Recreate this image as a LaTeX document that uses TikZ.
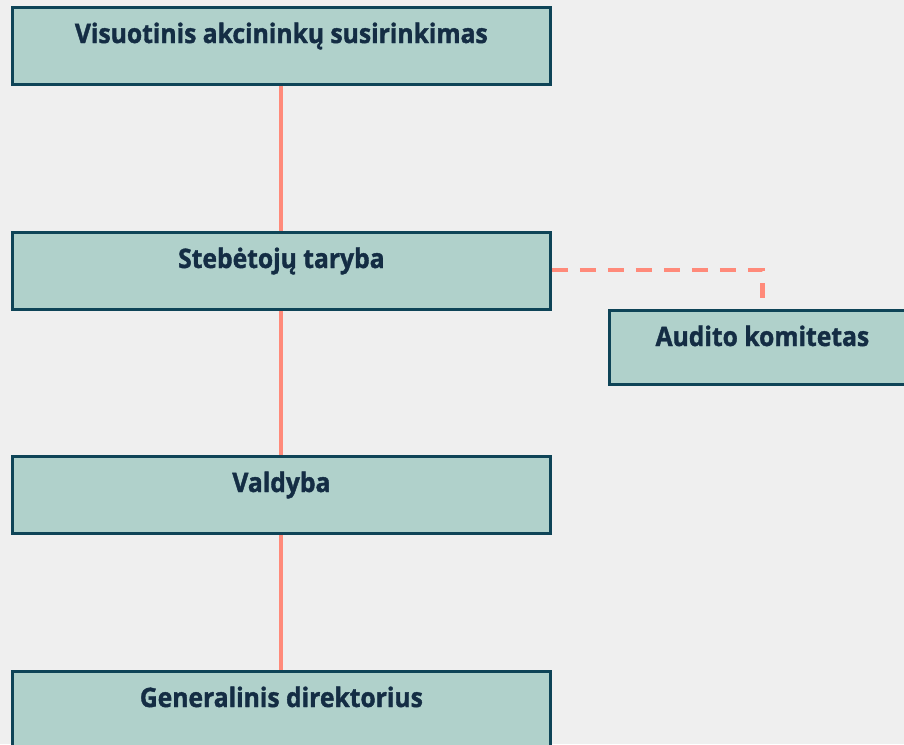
\documentclass[tikz,border=0pt]{standalone}
\usepackage{fontspec}
\setmainfont{Open Sans}[BoldFeatures={FakeBold=1.4,FakeStretch=0.92}]
\definecolor{bgc}{HTML}{EFEFEF}
\definecolor{boxfill}{HTML}{B0D1CB}
\definecolor{boxline}{HTML}{0E4457}
\definecolor{txt}{HTML}{142D44}
\definecolor{conn}{HTML}{FF8A7A}
\tikzset{
  orgbox/.style={draw=boxline, line width=2.8pt, fill=boxfill, minimum width=538pt, minimum height=77pt, inner sep=0pt, anchor=north west},
  orglabel/.style={text=txt, font=\bfseries\fontsize{26.8}{31}\selectfont, anchor=base, inner sep=0pt},
  link/.style={draw=conn, line width=4pt},
  dlink/.style={draw=conn, line width=4.4pt, dash pattern=on 16pt off 12pt}
}
\begin{document}
\begin{tikzpicture}[x=1pt,y=-1pt]
\useasboundingbox (0,0) rectangle (904,744);
\fill[bgc] (0,0) rectangle (904,744);
\begin{scope}
\clip (0,0) rectangle (904,744);
\node[orgbox] (b1) at (11,6) {};
\node[orgbox] (b2) at (11,231) {};
\node[orgbox, minimum width=306pt, minimum height=74pt] (b5) at (608,309) {};
\node[orgbox] (b3) at (11,455) {};
\node[orgbox] (b4) at (11,670) {};
\end{scope}
\node[orglabel] (t1) at ([yshift=-37pt]b1.north) {Visuotinis akcininkų susirinkimas};
\node[orglabel] (t2) at ([yshift=-37pt]b2.north) {Stebėtojų taryba};
\node[orglabel] (t5) at ([yshift=-37pt]b5.north) {Audito komitetas};
\node[orglabel] (t3) at ([yshift=-37pt]b3.north) {Valdyba};
\node[orglabel] (t4) at ([yshift=-37pt]b4.north) {Generalinis direktorius};
\draw[link] (b1.south) -- (b2.north);
\draw[link] (b2.south) -- (b3.north);
\draw[link] (b3.south) -- (b4.north);
\coordinate (c1) at ([yshift=11pt]b5.north);
\draw[dlink] ([yshift=1pt]b2.east) -| (c1);
\end{tikzpicture}
\end{document}
